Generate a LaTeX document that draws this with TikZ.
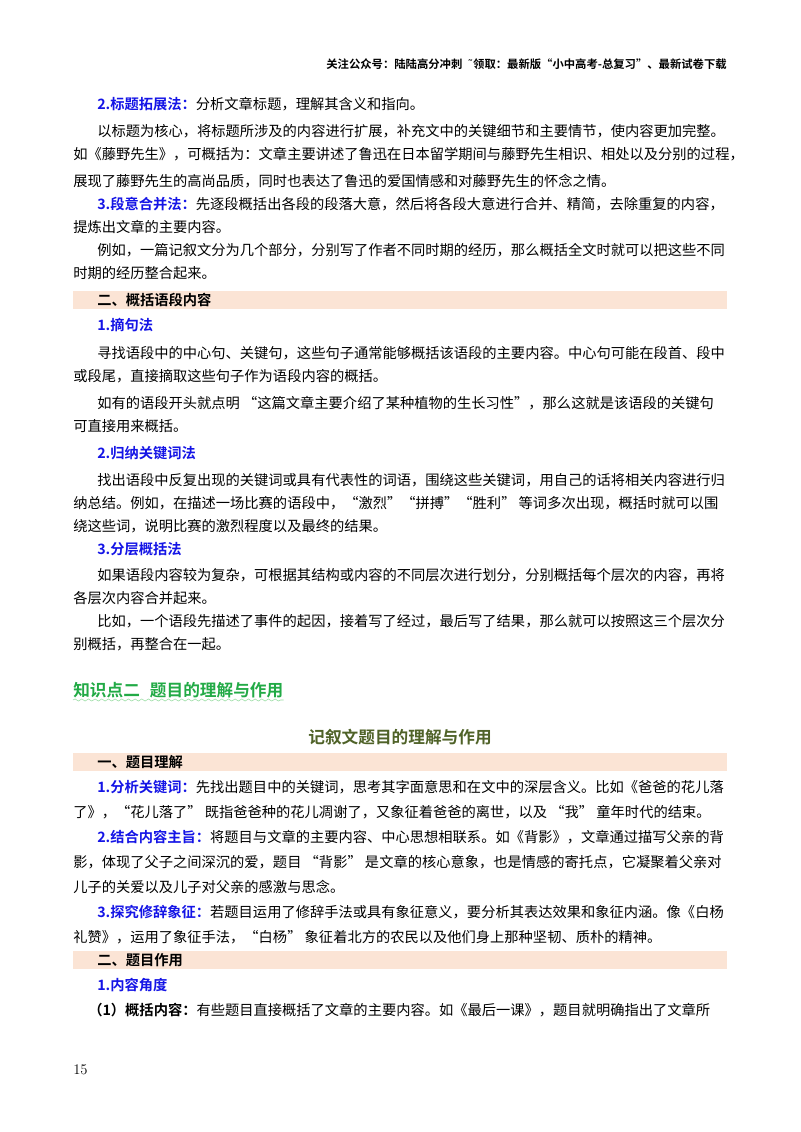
\documentclass[tikz,border=0pt]{standalone}
\usepackage{fontspec}
\newfontfamily\cjk{Noto Sans CJK SC}
\newfontfamily\cjkb{Noto Sans CJK SC Bold}
\newfontfamily\dvs{DejaVu Sans}
\usetikzlibrary{decorations.pathmorphing}
\definecolor{kblue}{RGB}{20,20,230}
\definecolor{kgreen}{RGB}{34,170,70}
\definecolor{kolive}{RGB}{79,98,40}
\definecolor{kband}{RGB}{251,228,213}
\definecolor{kwave}{RGB}{150,220,160}
\newcommand{\kb}[1]{{\cjkb\color{kblue}#1}}
\newcommand{\hb}[1]{{\cjkb #1}}
\begin{document}
\begin{tikzpicture}[x=0.75pt,y=-0.75pt,
  txt/.style={anchor=west,inner sep=0pt,font=\cjk\fontsize{10.7}{13}\selectfont},
  band/.style={fill=kband,draw=none}]
\useasboundingbox (0,0) rectangle (800,1132);
\fill[white] (0,0) rectangle (800,1132);
\node[anchor=east,inner sep=0pt,font=\cjkb\fontsize{8.5}{10}\selectfont] (hdr) at (727,64) {关注公众号：陆陆高分冲刺\ \ {\dvs ˜}领取：最新版“小中高考-总复习”、最新试卷下载};
\node[txt] (l1) at (97,104) {\kb{2.标题拓展法：}分析文章标题，理解其含义和指向。};
\node[txt] (l2) at (97,131) {以标题为核心，将标题所涉及的内容进行扩展，补充文中的关键细节和主要情节，使内容更加完整。};
\node[txt] (l3) at (73,154) {如《藤野先生》，可概括为：文章主要讲述了鲁迅在日本留学期间与藤野先生相识、相处以及分别的过程，};
\node[txt] (l4) at (73,181) {展现了藤野先生的高尚品质，同时也表达了鲁迅的爱国情感和对藤野先生的怀念之情。};
\node[txt] (l5) at (97,204) {\kb{3.段意合并法：}先逐段概括出各段的段落大意，然后将各段大意进行合并、精简，去除重复的内容，};
\node[txt] (l6) at (73,227) {提炼出文章的主要内容。};
\node[txt] (l7) at (97,250) {例如，一篇记叙文分为几个部分，分别写了作者不同时期的经历，那么概括全文时就可以把这些不同};
\node[txt] (l8) at (73,273) {时期的经历整合起来。};
\fill[band] (73,291) rectangle (727,309);
\node[txt] (b1) at (97,300) {\hb{二、概括语段内容}};
\node[txt] (l9) at (97,325) {\kb{1.摘句法}};
\node[txt] (l10) at (97,353) {寻找语段中的中心句、关键句，这些句子通常能够概括该语段的主要内容。中心句可能在段首、段中};
\node[txt] (l11) at (73,376) {或段尾，直接摘取这些句子作为语段内容的概括。};
\node[txt] (l12) at (97,403) {如有的语段开头就点明 “这篇文章主要介绍了某种植物的生长习性”，那么这就是该语段的关键句};
\node[txt] (l13) at (73,426) {可直接用来概括。};
\node[txt] (l14) at (97,453) {\kb{2.归纳关键词法}};
\node[txt] (l15) at (97,480) {找出语段中反复出现的关键词或具有代表性的词语，围绕这些关键词，用自己的话将相关内容进行归};
\node[txt] (l16) at (73,503) {纳总结。例如，在描述一场比赛的语段中，“激烈”“拼搏”“胜利” 等词多次出现，概括时就可以围};
\node[txt] (l17) at (73,526) {绕这些词，说明比赛的激烈程度以及最终的结果。};
\node[txt] (l18) at (97,549) {\kb{3.分层概括法}};
\node[txt] (l19) at (97,575) {如果语段内容较为复杂，可根据其结构或内容的不同层次进行划分，分别概括每个层次的内容，再将};
\node[txt] (l20) at (73,598) {各层次内容合并起来。};
\node[txt] (l21) at (97,621) {比如，一个语段先描述了事件的起因，接着写了经过，最后写了结果，那么就可以按照这三个层次分};
\node[txt] (l22) at (73,644) {别概括，再整合在一起。};
\node[txt,font=\cjkb\fontsize{12.5}{14}\selectfont,text=kgreen] (k2) at (73,690) {知识点二\hspace{0.6em}题目的理解与作用};
\draw[kwave,decorate,decoration={snake,amplitude=0.8pt,segment length=5pt}] (73,700) -- (k2.east |- 0,700);
\node[anchor=center,inner sep=0pt,font=\cjkb\fontsize{12.5}{14}\selectfont,text=kolive] (ttl) at (400,737) {记叙文题目的理解与作用};
\fill[band] (73,753) rectangle (727,771);
\node[txt] (b2) at (97,762) {\hb{一、题目理解}};
\node[txt] (m1) at (97,787) {\kb{1.分析关键词：}先找出题目中的关键词，思考其字面意思和在文中的深层含义。比如《爸爸的花儿落};
\node[txt] (m2) at (73,812) {了》，“花儿落了” 既指爸爸种的花儿凋谢了，又象征着爸爸的离世，以及 “我” 童年时代的结束。};
\node[txt] (m3) at (97,837) {\kb{2.结合内容主旨：}将题目与文章的主要内容、中心思想相联系。如《背影》，文章通过描写父亲的背};
\node[txt] (m4) at (73,862) {影，体现了父子之间深沉的爱，题目 “背影” 是文章的核心意象，也是情感的寄托点，它凝聚着父亲对};
\node[txt] (m5) at (73,887) {儿子的关爱以及儿子对父亲的感激与思念。};
\node[txt] (m6) at (97,912) {\kb{3.探究修辞象征：}若题目运用了修辞手法或具有象征意义，要分析其表达效果和象征内涵。像《白杨};
\node[txt] (m7) at (73,937) {礼赞》，运用了象征手法，“白杨” 象征着北方的农民以及他们身上那种坚韧、质朴的精神。};
\fill[band] (73,951) rectangle (727,969);
\node[txt] (b3) at (97,960) {\hb{二、题目作用}};
\node[txt] (m8) at (97,985) {\kb{1.内容角度}};
\node[txt] (m9) at (88,1010) {\hb{（1）概括内容：}有些题目直接概括了文章的主要内容。如《最后一课》，题目就明确指出了文章所};
\node[anchor=west,inner sep=0pt,font=\fontsize{11}{13}\selectfont] (pg) at (73,1070) {15};
\end{tikzpicture}
\end{document}
